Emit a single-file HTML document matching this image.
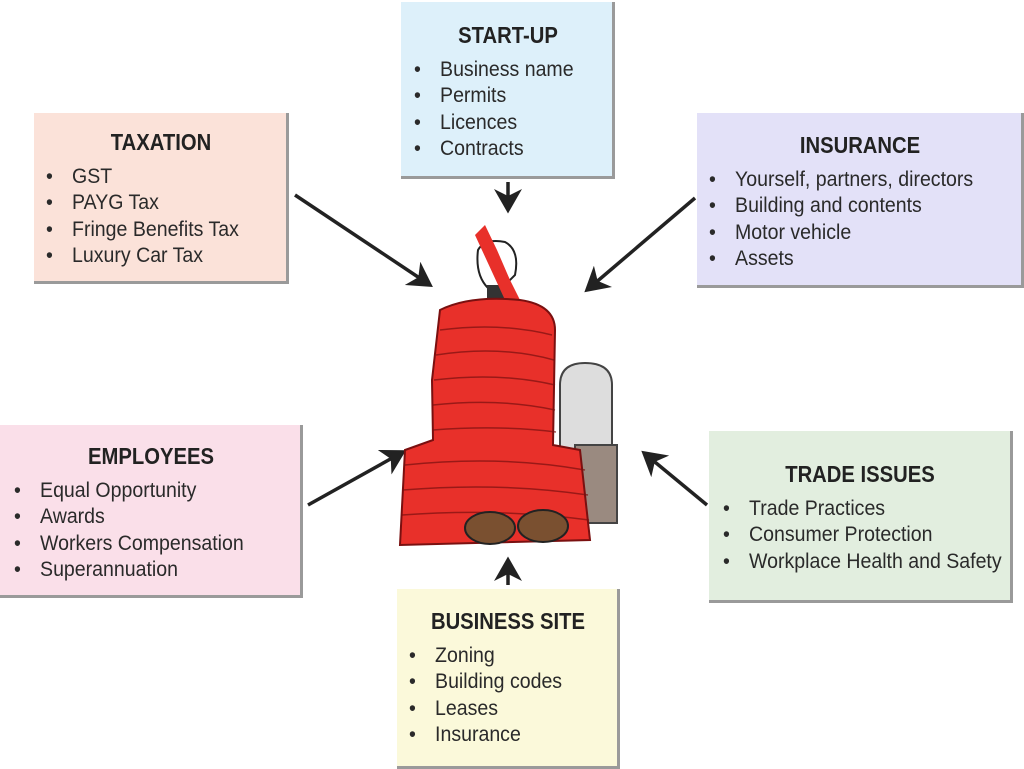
<!DOCTYPE html>
<html><head><meta charset="utf-8"><style>
body{margin:0;width:1024px;height:766px;background:#fff;position:relative;overflow:hidden;font-family:"Liberation Sans",sans-serif;color:#2a2a2a}
.box{position:absolute;box-sizing:border-box;border-right:3px solid #9a9a9a;border-bottom:3px solid #9a9a9a}
.t{position:absolute;font-weight:bold;font-size:23px;white-space:nowrap;transform:translateX(-50%) scaleX(.88);color:#222}
.i{position:absolute;font-size:21px;white-space:nowrap;line-height:26.3px;transform:scaleX(.93);transform-origin:0 0}
.i span{display:inline-block;width:28px}
</style></head><body>
<div class="box" style="left:401px;top:2px;width:214px;height:177px;background:#ddf0fa"></div>
<div class="box" style="left:34px;top:113px;width:255px;height:171px;background:#fbe2d9"></div>
<div class="box" style="left:697px;top:113px;width:327px;height:175px;background:#e3e1f8"></div>
<div class="box" style="left:0px;top:425px;width:303px;height:173px;background:#fadfe9"></div>
<div class="box" style="left:709px;top:431px;width:304px;height:172px;background:#e2eedf"></div>
<div class="box" style="left:397px;top:589px;width:223px;height:180px;background:#fbf9da"></div>

<div class="t" style="left:508px;top:22px">START-UP</div>
<div class="i" style="left:414px;top:57px"><span>•</span>Business name<br><span>•</span>Permits<br><span>•</span>Licences<br><span>•</span>Contracts</div>
<div class="t" style="left:161px;top:129px">TAXATION</div>
<div class="i" style="left:46px;top:164px"><span>•</span>GST<br><span>•</span>PAYG Tax<br><span>•</span>Fringe Benefits Tax<br><span>•</span>Luxury Car Tax</div>
<div class="t" style="left:860px;top:132px">INSURANCE</div>
<div class="i" style="left:709px;top:167px"><span>•</span>Yourself, partners, directors<br><span>•</span>Building and contents<br><span>•</span>Motor vehicle<br><span>•</span>Assets</div>
<div class="t" style="left:151px;top:443px">EMPLOYEES</div>
<div class="i" style="left:14px;top:478px"><span>•</span>Equal Opportunity<br><span>•</span>Awards<br><span>•</span>Workers Compensation<br><span>•</span>Superannuation</div>
<div class="t" style="left:860px;top:461px">TRADE ISSUES</div>
<div class="i" style="left:723px;top:496px"><span>•</span>Trade Practices<br><span>•</span>Consumer Protection<br><span>•</span>Workplace Health and Safety</div>
<div class="t" style="left:508px;top:608px">BUSINESS SITE</div>
<div class="i" style="left:409px;top:643px"><span>•</span>Zoning<br><span>•</span>Building codes<br><span>•</span>Leases<br><span>•</span>Insurance</div>

<svg width="1024" height="766" style="position:absolute;left:0;top:0">
<defs><marker id="a" markerWidth="8" markerHeight="8" refX="6" refY="4" orient="auto" markerUnits="strokeWidth"><path d="M0,0 L7,4 L0,8 L2,4z" fill="#222"/></marker></defs>
<g stroke="#222" stroke-width="3.5" fill="none" marker-end="url(#a)">
<line x1="508" y1="182" x2="508" y2="210"/>
<line x1="295" y1="195" x2="430" y2="285"/>
<line x1="695" y1="198" x2="587" y2="290"/>
<line x1="308" y1="505" x2="403" y2="452"/>
<line x1="707" y1="505" x2="644" y2="453"/>
<line x1="508" y1="585" x2="508" y2="560"/>
</g>
<path d="M560,520 L560,385 Q560,363 585,363 Q612,363 612,385 L612,520z" fill="#ddd" stroke="#444" stroke-width="2"/>
<rect x="575" y="445" width="42" height="78" fill="#9a8a80" stroke="#444" stroke-width="2"/>
<path d="M478,250 Q485,238 505,242 Q520,250 515,275 L505,285 L488,288 Q475,275 478,250z" fill="#fff" stroke="#222" stroke-width="2"/>
<rect x="487" y="285" width="20" height="20" fill="#333"/>
<path d="M475,235 L485,225 L497,250 L510,280 L520,300 L505,300 Z" fill="#e8302a"/>
<path d="M440,310 Q470,295 520,300 Q555,305 555,330 L553,445 L580,450 L590,540 L400,545 L405,450 L433,440 L432,380 Z" fill="#e8302a" stroke="#7a1010" stroke-width="2"/>
<g stroke="#7a1010" stroke-width="1.5" fill="none" opacity=".7">
<path d="M440,330 Q500,322 552,335"/><path d="M436,355 Q500,345 554,360"/><path d="M434,380 Q500,372 555,385"/><path d="M433,405 Q500,398 555,410"/><path d="M433,430 Q500,425 556,432"/><path d="M405,465 Q500,455 585,470"/><path d="M403,490 Q500,482 588,495"/><path d="M402,515 Q500,508 589,520"/>
</g>
<ellipse cx="490" cy="528" rx="25" ry="16" fill="#7a5030" stroke="#222" stroke-width="2"/>
<ellipse cx="543" cy="526" rx="25" ry="16" fill="#7a5030" stroke="#222" stroke-width="2"/>
</svg>
</body></html>
